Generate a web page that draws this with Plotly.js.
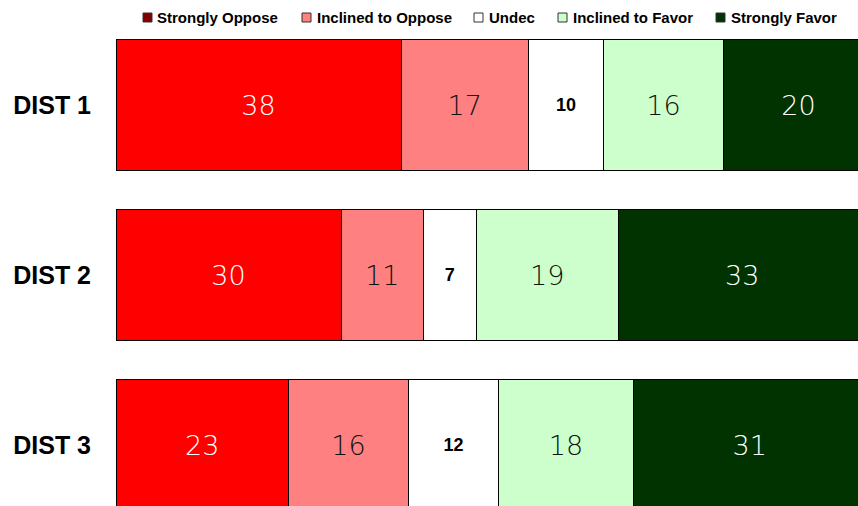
<!DOCTYPE html>
<html>
<head>
<meta charset="utf-8">
<script src="https://cdn.plot.ly/plotly-3.0.1.min.js"></script>
<style>html,body{margin:0;padding:0;background:#fff;}#chart{width:858px;height:506px;}</style>
</head>
<body>
<div id="chart"></div>
<script>
// ---- data ----
const categories = ['DIST 1', 'DIST 2', 'DIST 3'];
const seriesNames = ['Strongly Oppose', 'Inclined to Oppose', 'Undec', 'Inclined to Favor', 'Strongly Favor'];
const stronglyOppose = [38, 30, 23];
const inclinedOppose = [17, 11, 16];
const undec = [10, 7, 12];
const inclinedFavor = [16, 19, 18];
const stronglyFavor = [20, 33, 31];

// ---- styles ----
const seriesValues = [stronglyOppose, inclinedOppose, undec, inclinedFavor, stronglyFavor];
const barColors = ['#FF0000', '#FF8080', '#FFFFFF', '#CCFFCC', '#003300'];
const legendColors = ['#800000', '#FF8080', '#FFFFFF', '#CCFFCC', '#003300'];
const textColors = ['#FFFFFF', '#111111', '#000000', '#111111', '#FFFFFF'];
const thinFont = {family: 'DejaVu Sans', size: 27, weight: 200};
const boldSmall = {family: 'Liberation Sans, Arial', size: 18, weight: 'bold'};
const textFonts = [thinFont, thinFont, boldSmall, thinFont, thinFont];

// layout geometry
const W = 858, H = 506, ML = 116, MT = 20;
const PW = W - ML, PH = H - MT;
const legendBoxLeft = [143, 302, 474, 558, 716];
const legendTextLeft = [156, 316, 488, 572, 730];
const px2x = p => (p - ML) / PW;
const px2y = p => (H - p) / PH;

const traces = seriesNames.map((name, i) => ({
  type: 'bar',
  orientation: 'h',
  name: name,
  x: seriesValues[i],
  y: categories,
  text: seriesValues[i].map(String),
  textposition: 'inside',
  insidetextanchor: 'middle',
  textangle: 0,
  constraintext: 'none',
  textfont: Object.assign({}, textFonts[i], {color: textColors[i]}),
  marker: {color: barColors[i], line: {color: '#000000', width: 1}},
  hoverinfo: 'none',
  showlegend: false
}));

const shapes = seriesNames.map((n, i) => ({
  type: 'rect', xref: 'paper', yref: 'paper',
  x0: px2x(legendBoxLeft[i]), x1: px2x(legendBoxLeft[i] + 9),
  y0: px2y(22), y1: px2y(13),
  fillcolor: legendColors[i],
  line: {color: '#333333', width: 1}
}));

const annotations = seriesNames.map((n, i) => ({
  text: n, xref: 'paper', yref: 'paper',
  x: px2x(legendTextLeft[i] - 1), y: px2y(17.5),
  xanchor: 'left', yanchor: 'middle', showarrow: false,
  font: {family: 'Liberation Sans, Arial', size: 15, weight: 'bold', color: '#000000'}
}));

const layout = {
  width: W, height: H,
  margin: {l: ML, r: 0, t: MT, b: 0, pad: 0},
  paper_bgcolor: '#FFFFFF', plot_bgcolor: '#FFFFFF',
  barmode: 'stack',
  bargap: 0.235,
  showlegend: false,
  xaxis: {range: [0, PW / 7.5], visible: false, fixedrange: true},
  yaxis: {
    type: 'category',
    range: [(H - 105) / 170, -0.5],
    showgrid: false, zeroline: false, showline: false,
    ticks: '', ticklabelstandoff: 24,
    tickfont: {family: 'Liberation Sans, Arial', size: 25, weight: 'bold', color: '#000000'},
    fixedrange: true
  },
  shapes: shapes,
  annotations: annotations
};

Plotly.newPlot('chart', traces, layout, {displayModeBar: false, staticPlot: true});
</script>
</body>
</html>
